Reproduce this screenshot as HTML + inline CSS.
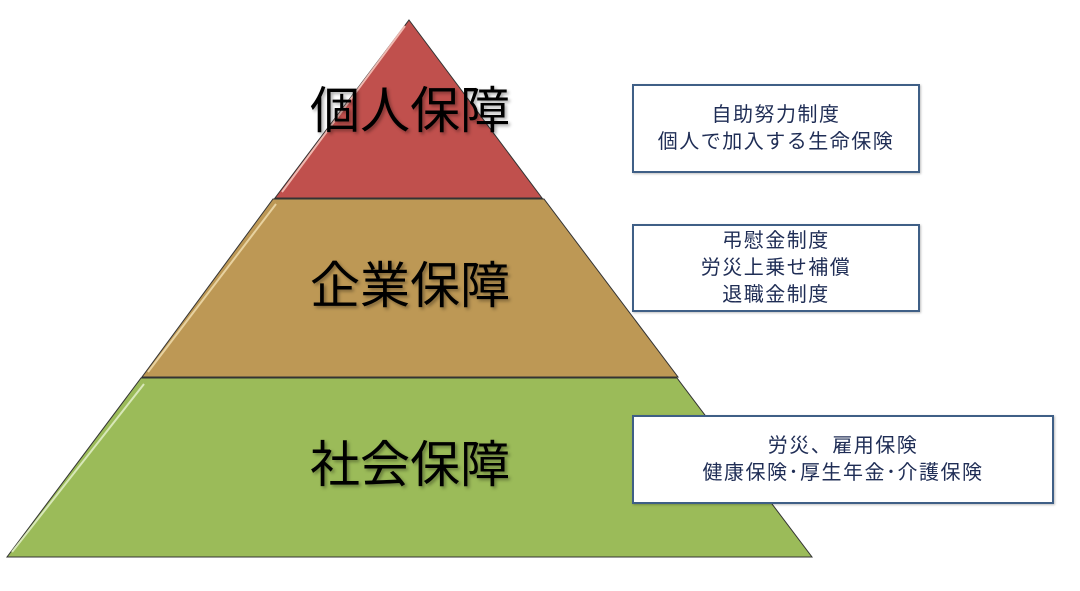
<!DOCTYPE html>
<html><head><meta charset="utf-8"><style>
body{margin:0;width:1080px;height:591px;background:#fff;overflow:hidden;position:relative;font-family:"Liberation Sans","Noto Sans CJK JP",sans-serif}
.big{position:absolute;width:400px;left:210px;text-align:center;font-size:50px;color:#000;line-height:54px;text-shadow:2px 2px 3px rgba(0,0,0,.35)}
.box{position:absolute;border:2px solid #3f5f86;background:#fff;box-sizing:border-box;display:flex;align-items:center;justify-content:center;text-align:center;color:#1f2d55;font-size:20px;letter-spacing:1.5px;line-height:27px;box-shadow:1px 1px 2px rgba(0,0,0,.25)}
</style></head><body>
<svg width="1080" height="591" style="position:absolute;left:0;top:0">
<polygon points="409,20 542,198 275,198" fill="#c0504d" stroke="#333" stroke-width="1"/>
<polygon points="273,199 544,199 678,377 142,377" fill="#bd9855" stroke="#333" stroke-width="1"/>
<polygon points="141,378 677,378 812,557 7,557" fill="#9bbb59" stroke="#333" stroke-width="1"/>
<line x1="405" y1="26" x2="282" y2="192" stroke="#f0b8b0" stroke-width="2"/>
<line x1="276" y1="204" x2="148" y2="372" stroke="#e8d2a0" stroke-width="2"/>
<line x1="144" y1="384" x2="12" y2="552" stroke="#d8e8b8" stroke-width="2"/>
</svg>
<div class="big" style="top:84px">個人保障</div>
<div class="big" style="top:259px">企業保障</div>
<div class="big" style="top:438px">社会保障</div>
<div class="box" style="left:632px;top:84px;width:288px;height:89px">自助努力制度<br>個人で加入する生命保険</div>
<div class="box" style="left:632px;top:224px;width:288px;height:88px">弔慰金制度<br>労災上乗せ補償<br>退職金制度</div>
<div class="box" style="left:632px;top:415px;width:422px;height:89px">労災、雇用保険<br>健康保険･厚生年金･介護保険</div>
</body></html>
